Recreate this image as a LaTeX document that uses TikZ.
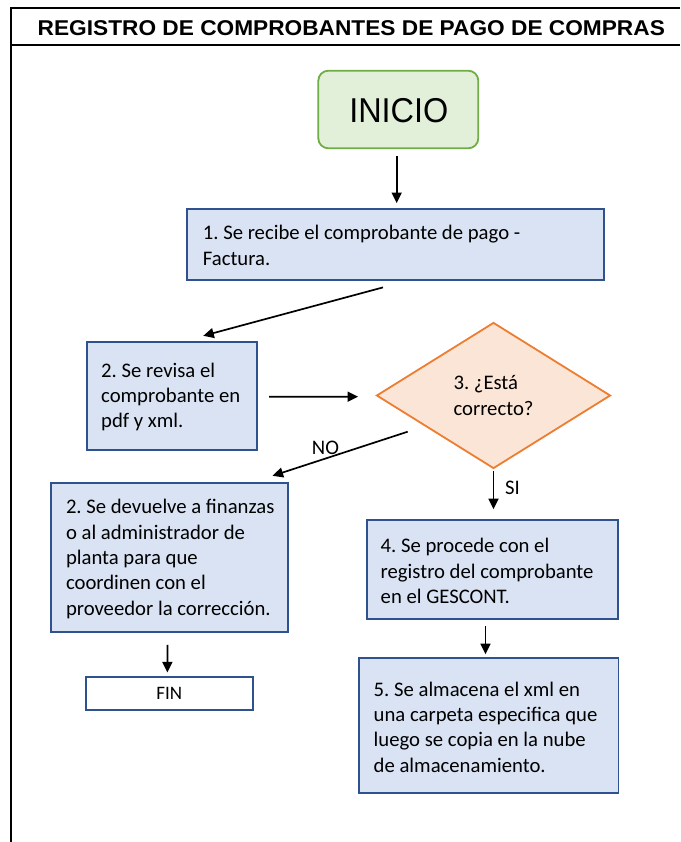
\documentclass[tikz,border=0pt]{standalone}
\usepackage{fontspec}
\setmainfont{Carlito}
\newfontfamily\titlefont[FakeStretch=1.06]{Liberation Sans}
\newfontfamily\inifont[FakeStretch=0.94]{Liberation Sans}
\usetikzlibrary{shapes.geometric,arrows.meta}
\definecolor{boxfill}{HTML}{DAE3F3}
\definecolor{boxline}{HTML}{2F528F}
\definecolor{dfill}{HTML}{FBE5D6}
\definecolor{dline}{HTML}{ED7D31}
\definecolor{gfill}{HTML}{E2F0D9}
\definecolor{gline}{HTML}{70AD47}
\tikzset{
  boxtext/.style={font=\frenchspacing\fontsize{20.7}{25.3}\selectfont},
  procbox/.style={draw=boxline, fill=boxfill, line width=1.8pt, inner sep=0pt},
  btext/.style={boxtext, align=left, inner sep=0pt, anchor=west},
  arr/.style={line width=1.7pt, -{Triangle[length=10.5pt,width=10pt]}},
  frameline/.style={line width=1.6pt},
  lbl/.style={boxtext, inner sep=0pt, anchor=base west},
}
\begin{document}
\frenchspacing
\begin{tikzpicture}[x=1pt,y=-1pt]
\useasboundingbox (0,0) rectangle (680,842);
% frame
\draw[frameline] (680,8) -- (11,8) -- (11,842);
\draw[frameline] (11,45) -- (680,45);
\node[anchor=base, inner sep=0pt, font=\titlefont\bfseries\fontsize{21.4}{24}\selectfont] (title) at (351.3,36) {REGISTRO DE COMPROBANTES DE PAGO DE COMPRAS};
% start
\node[draw=gline, fill=gfill, line width=1.8pt, rounded corners=10pt, minimum width=160pt, minimum height=77.6pt, inner sep=0pt] (ini) at (398.3,109.5) {};
\node[anchor=base, inner sep=0pt, font=\inifont\fontsize{34.5}{40}\selectfont] (initxt) at (398.8,122.3) {INICIO};
% boxes
\node[procbox, minimum width=416.7pt, minimum height=70.7pt] (b1) at (395.65,244.65) {};
\node[btext] (t1) at (202.7,245.5) {1. Se recibe el comprobante de pago -\\Factura.};
\node[procbox, minimum width=169.7pt, minimum height=108.3pt] (b2) at (171.85,395.85) {};
\node[btext] (t2) at (101,397) {2. Se revisa el\\comprobante en\\pdf y xml.};
\node[draw=dline, fill=dfill, line width=1.8pt, diamond, minimum width=234pt, minimum height=146pt, inner sep=0pt, align=left, boxtext] (d) at (493.5,395.5)
  {3. ¿Está\\correcto?};
\node[procbox, minimum width=237.3pt, minimum height=149pt] (b2b) at (169.65,557.2) {};
\node[btext] (t2b) at (65.8,559) {2. Se devuelve a finanzas\\o al administrador de\\planta para que\\coordinen con el\\proveedor la corrección.};
\node[procbox, minimum width=251.3pt, minimum height=99pt] (b4) at (492.35,569.5) {};
\node[btext] (t4) at (380.5,571) {4. Se procede con el\\registro del comprobante\\en el GESCONT.};
\node[procbox, minimum width=259.2pt, minimum height=134.4pt] (b5) at (488.9,725.5) {};
\node[btext] (t5) at (373.5,727) {5. Se almacena el xml en\\una carpeta especifica que\\luego se copia en la nube\\de almacenamiento.};
\node[draw=boxline, fill=white, line width=1.8pt, minimum width=166.7pt, minimum height=32.7pt, inner sep=0pt, font=\fontsize{19}{22}\selectfont] (fin) at (169.35,693.65) {FIN};
% arrows
\draw[arr] ([xshift=-1.6pt,yshift=-6.7pt]ini.south) -- ([xshift=1.05pt,yshift=5.3pt]b1.north);
\draw[arr] ([xshift=-12.65pt,yshift=-6.5pt]b1.south) -- ([xshift=31.45pt,yshift=5pt]b2.north);
\draw[arr] ([xshift=11.6pt,yshift=-0.85pt]b2.east) -- ([xshift=-17.5pt,yshift=-1.2pt]d.west);
\draw[arr] ([xshift=-85.8pt,yshift=-36.2pt]d.center) -- ([xshift=-16.6pt,yshift=6pt]b2b.north east);
\draw[arr] ([yshift=-1.7pt]d.south) -- ([xshift=1.15pt,yshift=10pt]b4.north);
\draw[arr] ([xshift=-6.85pt,yshift=-6pt]b4.south) -- ([xshift=-3.4pt,yshift=3.3pt]b5.north);
\draw[arr] ([xshift=-2.25pt,yshift=-12.3pt]b2b.south) -- ([xshift=-1.95pt,yshift=4pt]fin.north);
% labels
\node[lbl] (no) at (311.7,454) {NO};
\node[lbl] (si) at (505,494) {SI};
\end{tikzpicture}
\end{document}
